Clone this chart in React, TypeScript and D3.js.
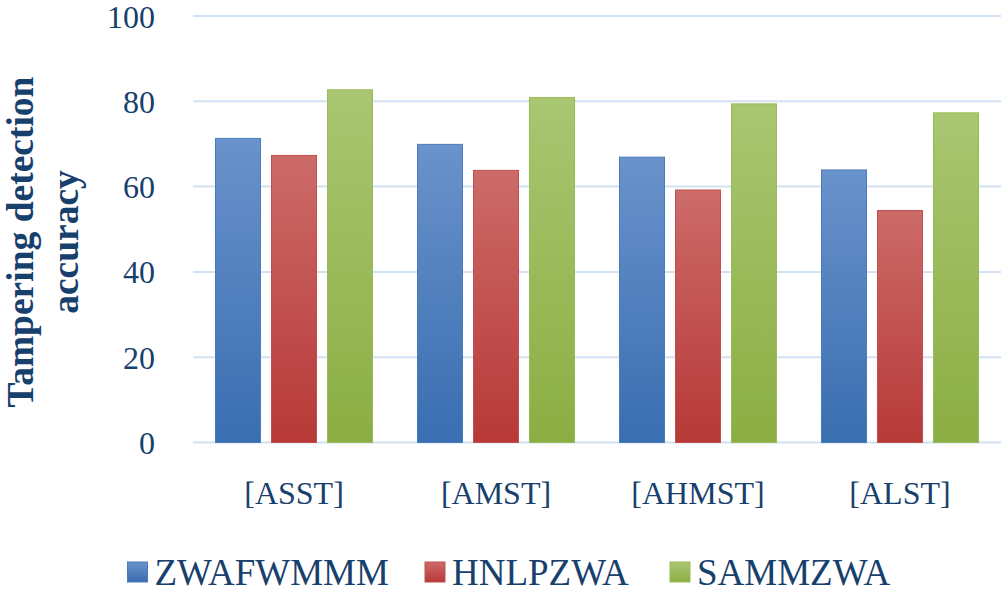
import React from "react";
import * as d3 from "d3";

const categories = ["[ASST]", "[AMST]", "[AHMST]", "[ALST]"];
const seriesNames = ["ZWAFWMMM", "HNLPZWA", "SAMMZWA"];
const zwafwmmm = [71.3, 69.9, 66.9, 63.9];
const hnlpzwa = [67.3, 63.8, 59.2, 54.4];
const sammzwa = [82.7, 80.9, 79.4, 77.3];
const yTicks = [0, 20, 40, 60, 80, 100];

const seriesValues = [zwafwmmm, hnlpzwa, sammzwa];
const colors = [
  { top: "#6a92cb", bottom: "#396eb1", stroke: "#4a7cbc" },
  { top: "#cc6b68", bottom: "#b73938", stroke: "#c0504d" },
  { top: "#a9c671", bottom: "#8bae43", stroke: "#9bbb59" },
];

const W = 1001, H = 592;
const margin = { left: 193, right: 0, top: 16, bottom: 149.5 };
const textColor = "#17406d";
const font = "'Liberation Serif', 'Times New Roman', serif";

function App() {
  const x0 = d3.scaleBand().domain(categories).range([margin.left, W - margin.right]);
  const x1 = d3.scaleBand().domain(seriesNames).range([22.5, x0.bandwidth() - 22.5]).paddingInner(0.196);
  const y = d3.scaleLinear().domain([0, 100]).range([H - margin.bottom, margin.top]);

  const legendX = [127.5, 425, 670];

  return (
    <svg width={W} height={H} style={{ position: "fixed", left: 0, top: 0, background: "#fff" }}>
      <defs>
        {colors.map((c, i) => (
          <linearGradient key={i} id={`g${i}`} x1="0" y1="0" x2="0" y2="1">
            <stop offset="0" stopColor={c.top} />
            <stop offset="1" stopColor={c.bottom} />
          </linearGradient>
        ))}
      </defs>

      {yTicks.map((t) => (
        <g key={t}>
          <line x1={margin.left} x2={W} y1={y(t)} y2={y(t)} stroke="#d2e2f3" strokeWidth={2} />
          <text x={155} y={y(t)} dy="0.36em" textAnchor="end" fontFamily={font} fontSize={32} fill={textColor}>
            {t}
          </text>
        </g>
      ))}

      {categories.map((cat, ci) => (
        <g key={cat} transform={`translate(${x0(cat)},0)`}>
          {seriesNames.map((s, si) => {
            const v = seriesValues[si][ci];
            return (
              <rect
                key={s}
                x={x1(s)}
                y={y(v)}
                width={x1.bandwidth()}
                height={y(0) - y(v)}
                fill={`url(#g${si})`}
                stroke={colors[si].stroke}
                strokeWidth={1}
              />
            );
          })}
          <text
            x={x0.bandwidth() / 2}
            y={493}
            dy="0.35em"
            textAnchor="middle"
            fontFamily={font}
            fontSize={32}
            fill={textColor}
          >
            {cat}
          </text>
        </g>
      ))}

      <g transform="translate(33,242) rotate(-90)">
        <text textAnchor="middle" fontFamily={font} fontSize={37.5} fontWeight="bold" fill={textColor}>
          Tampering detection
        </text>
        <text y={45} textAnchor="middle" fontFamily={font} fontSize={37.5} fontWeight="bold" fill={textColor}>
          accuracy
        </text>
      </g>

      {seriesNames.map((s, si) => (
        <g key={s} transform={`translate(${legendX[si]},0)`}>
          <rect x={0} y={562} width={20} height={20} fill={`url(#g${si})`} stroke={colors[si].stroke} strokeWidth={1} />
          <text x={27} y={572} dy="0.35em" fontFamily={font} fontSize={37} fill={textColor}>
            {s}
          </text>
        </g>
      ))}
    </svg>
  );
}

export default App;
